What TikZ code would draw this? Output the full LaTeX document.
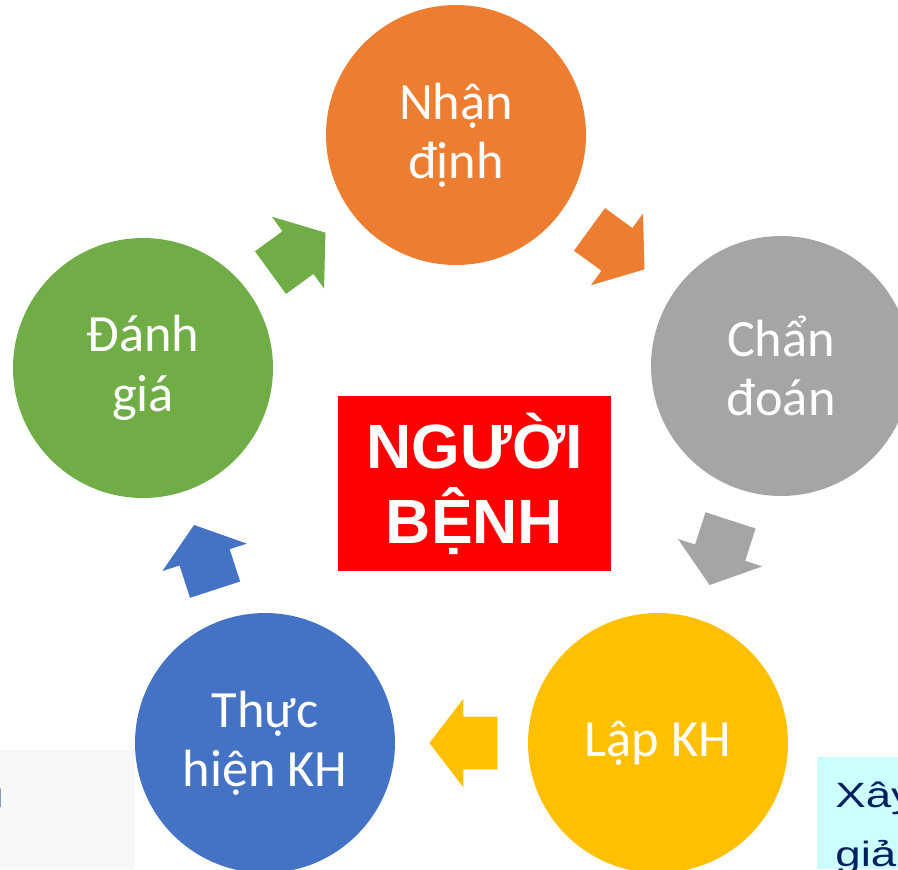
\documentclass[tikz,border=0pt]{standalone}
\usepackage{fontspec}
\usepackage{graphicx}
\setmainfont{Carlito}
\newfontfamily\arialfont{Liberation Sans}
\usetikzlibrary{shapes.arrows,calc}

\definecolor{cOrange}{RGB}{237,125,49}
\definecolor{cGray}{RGB}{165,165,165}
\definecolor{cYellow}{RGB}{255,192,0}
\definecolor{cBlue}{RGB}{68,114,196}
\definecolor{cGreen}{RGB}{112,173,71}
\definecolor{cRed}{RGB}{255,0,0}
\definecolor{cNavy}{RGB}{0,32,96}
\definecolor{cCyan}{RGB}{204,255,255}
\definecolor{cPale}{RGB}{248,248,248}

\begin{document}
\begin{tikzpicture}[x=0.02cm, y=-0.02cm,
    stage/.style={circle, minimum size=5.2cm, inner sep=0pt, fill=#1, text=white,
                  align=center, font=\fontsize{29.8}{33.8}\selectfont},
    cyclearrow/.style={single arrow, fill=#1, minimum height=1.36cm, inner xsep=0pt, inner ysep=0.52cm,
                  single arrow head extend=0.36cm, single arrow tip angle=105},
    note/.style={inner sep=0pt, text=cNavy, font=\arialfont\fontsize{20}{24}\selectfont}]
    \useasboundingbox (0,0) rectangle (898,869);
    \clip (0,0) rectangle (898,869);

    % Side boxes
    \fill [cPale] (0,750) rectangle (135,869);
    \fill [cCyan] (817,757) rectangle (905,869);
    \node [note, anchor=base east, font=\arialfont\fontsize{26}{30}\selectfont]
        (leftnote) at (4,807) {n};
    \node [note, anchor=base west] (rightnote1) at (835,807) {\scalebox{1.3}[1]{Xây}};
    \node [note, anchor=base west] (rightnote2) at (835,866) {\scalebox{1.3}[1]{giả}};

    % Nodes {stages of the cycle}
    \node [stage=cOrange]  (nhandinh)  at (456,135)  {Nhận\\định};
    \node [stage=cGray]    (chandoan)  at (781,366)  {Chẩn\\đoán};
    \node [stage=cYellow]  (lapkh)     at (658,743)  {Lập KH};
    \node [stage=cBlue]    (thuchien)  at (265,743)  {Thực\\hiện KH};
    \node [stage=cGreen]   (danhgia)   at (143,368)  {Đánh\\giá};

    % Centre box
    \node [fill=cRed, text=white, minimum width=5.46cm, minimum height=3.5cm, align=center,
           font=\arialfont\bfseries\fontsize{35.6}{42.7}\selectfont]
        (nguoibenh) at (474.5,483.5) {NGƯỜI\\BỆNH};

    % Arrows between stages (shifted back so they sit half way)
    \node [cyclearrow=cOrange, rotate=-36, xshift=-0.24cm]  (a1) at ($(nhandinh)!0.5!(chandoan)$) {};
    \node [cyclearrow=cGray, rotate=-108, xshift=-0.24cm]   (a2) at ($(chandoan)!0.5!(lapkh)$) {};
    \node [cyclearrow=cYellow, rotate=180, xshift=-0.24cm]  (a3) at ($(lapkh)!0.5!(thuchien)$) {};
    \node [cyclearrow=cBlue, rotate=108, xshift=-0.24cm]    (a4) at ($(thuchien)!0.5!(danhgia)$) {};
    \node [cyclearrow=cGreen, rotate=36, xshift=-0.24cm]    (a5) at ($(danhgia)!0.5!(nhandinh)$) {};

\end{tikzpicture}
\end{document}
